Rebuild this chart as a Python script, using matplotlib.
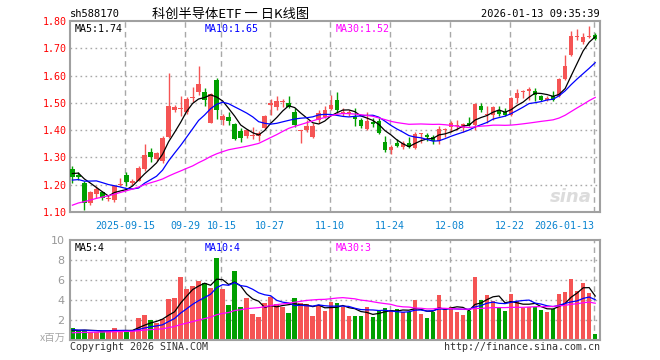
import matplotlib
matplotlib.use('Agg')
import matplotlib.pyplot as plt
import numpy as np
import pandas as pd

# ---------------- data ----------------
opens = [1.258, 1.235, 1.205, 1.132, 1.165, 1.174, 1.148, 1.144, 1.200, 1.236,
         1.206, 1.215, 1.257, 1.321, 1.293, 1.288, 1.376, 1.472, 1.476, 1.465,
         1.518, 1.538, 1.538, 1.428, 1.585, 1.439, 1.450, 1.423, 1.398, 1.377,
         1.380, 1.378, 1.407, 1.493, 1.485, 1.503, 1.500, 1.468, 1.398, 1.400,
         1.374, 1.438, 1.450, 1.477, 1.511, 1.461, 1.460, 1.448, 1.437, 1.404,
         1.431, 1.435, 1.358, 1.328, 1.352, 1.338, 1.354, 1.333, 1.385, 1.383,
         1.374, 1.362, 1.400, 1.411, 1.414, 1.407, 1.425, 1.419, 1.489, 1.455,
         1.456, 1.472, 1.468, 1.456, 1.517, 1.541, 1.543, 1.542, 1.526, 1.512,
         1.526, 1.524, 1.587, 1.677, 1.742, 1.722, 1.741, 1.748]
highs = [1.270, 1.245, 1.212, 1.178, 1.195, 1.178, 1.162, 1.200, 1.225, 1.245,
         1.222, 1.267, 1.350, 1.334, 1.320, 1.378, 1.610, 1.492, 1.524, 1.520,
         1.557, 1.636, 1.556, 1.537, 1.590, 1.460, 1.465, 1.428, 1.408, 1.404,
         1.412, 1.397, 1.456, 1.514, 1.524, 1.515, 1.526, 1.480, 1.402, 1.437,
         1.428, 1.475, 1.489, 1.530, 1.538, 1.480, 1.475, 1.480, 1.445, 1.468,
         1.444, 1.444, 1.379, 1.345, 1.366, 1.360, 1.374, 1.395, 1.391, 1.390,
         1.383, 1.415, 1.408, 1.435, 1.438, 1.428, 1.448, 1.500, 1.501, 1.489,
         1.489, 1.487, 1.480, 1.521, 1.551, 1.548, 1.558, 1.554, 1.530, 1.524,
         1.542, 1.590, 1.677, 1.762, 1.771, 1.757, 1.780, 1.755]
lows = [1.205, 1.218, 1.108, 1.125, 1.150, 1.143, 1.142, 1.135, 1.195, 1.197,
        1.200, 1.212, 1.250, 1.282, 1.288, 1.280, 1.371, 1.465, 1.453, 1.458,
        1.503, 1.530, 1.490, 1.425, 1.442, 1.420, 1.418, 1.364, 1.357, 1.371,
        1.366, 1.362, 1.403, 1.456, 1.472, 1.484, 1.480, 1.413, 1.352, 1.395,
        1.370, 1.426, 1.444, 1.474, 1.462, 1.452, 1.450, 1.415, 1.408, 1.400,
        1.410, 1.386, 1.321, 1.313, 1.337, 1.330, 1.333, 1.330, 1.352, 1.362,
        1.350, 1.350, 1.375, 1.395, 1.401, 1.395, 1.415, 1.400, 1.465, 1.425,
        1.438, 1.450, 1.452, 1.450, 1.501, 1.517, 1.509, 1.505, 1.508, 1.505,
        1.505, 1.520, 1.582, 1.673, 1.732, 1.715, 1.738, 1.732]
closes = [1.229, 1.228, 1.132, 1.174, 1.186, 1.150, 1.151, 1.196, 1.203, 1.211,
          1.215, 1.260, 1.309, 1.301, 1.315, 1.373, 1.487, 1.483, 1.482, 1.515,
          1.522, 1.569, 1.509, 1.532, 1.475, 1.450, 1.432, 1.368, 1.370, 1.399,
          1.384, 1.390, 1.452, 1.500, 1.505, 1.505, 1.485, 1.418, 1.400, 1.416,
          1.417, 1.462, 1.472, 1.493, 1.474, 1.467, 1.465, 1.440, 1.415, 1.435,
          1.423, 1.391, 1.328, 1.337, 1.342, 1.352, 1.338, 1.386, 1.388, 1.374,
          1.362, 1.403, 1.404, 1.425, 1.420, 1.423, 1.419, 1.497, 1.472, 1.457,
          1.484, 1.460, 1.456, 1.517, 1.536, 1.545, 1.550, 1.530, 1.511, 1.516,
          1.512, 1.587, 1.636, 1.745, 1.745, 1.740, 1.745, 1.735]
# volume, millions
volumes = [1.23, 0.90, 1.00, 0.80, 0.80, 0.90, 0.90, 1.20, 0.90, 0.87,
           0.93, 2.20, 2.50, 2.00, 1.67, 2.07, 4.13, 4.23, 6.30, 5.13,
           5.40, 5.90, 5.67, 5.25, 8.20, 5.15, 3.50, 6.90, 3.30, 4.23,
           2.63, 2.33, 3.73, 4.30, 3.60, 3.30, 2.73, 4.23, 3.73, 3.57,
           2.40, 3.50, 2.90, 3.83, 3.73, 3.30, 2.40, 2.40, 2.40, 3.30,
           2.30, 2.90, 3.20, 3.00, 3.10, 2.80, 2.80, 4.00, 2.60, 2.20,
           2.80, 4.50, 3.20, 3.30, 2.80, 2.50, 2.90, 6.30, 4.00, 4.50,
           3.90, 3.30, 2.90, 4.60, 3.90, 3.20, 3.30, 3.30, 3.00, 2.80,
           3.10, 4.60, 4.80, 6.10, 4.90, 5.70, 4.70, 0.60]
# earlier sessions (before the visible window), used only for the moving averages
hist_closes = [0.985, 0.990, 0.995, 1.000, 1.005, 1.010, 1.015, 1.020, 1.025, 1.030,
               1.040, 1.050, 1.090, 1.120, 1.150, 1.170, 1.190, 1.210, 1.230, 1.255,
               1.210, 1.190, 1.170, 1.180, 1.215, 1.220, 1.240, 1.250, 1.266]
hist_volumes = [0.45, 0.48, 0.50, 0.42, 0.46, 0.52, 0.55, 0.50, 0.48, 0.53,
                0.58, 0.62, 0.55, 0.60, 0.65, 0.70, 0.68, 0.72, 0.75, 0.86,
                1.30, 1.15, 1.05, 0.98, 0.97, 0.95, 0.85, 0.92, 0.90]

tick_idx = [9, 19, 25, 33, 43, 53, 63, 73, 87]
tick_labels = ['2025-09-15', '09-29', '10-15', '10-27', '11-10', '11-24',
               '12-08', '12-22', '2026-01-13']

code = 'sh588170'
title = '科创半导体ETF 一 日K线图'
stamp = '2026-01-13 09:35:39'

# ---------------- styling ----------------
RED = '#f55454'
GREEN = '#009f00'
GRID = '#a8a8a8'
SPINE = '#a0a0a0'
MONO = 'DejaVu Sans Mono'
CJK = ['Noto Sans CJK SC', 'DejaVu Sans']

n = len(closes)
x = np.arange(n)
o = np.array(opens); h = np.array(highs); l = np.array(lows); c = np.array(closes)
v = np.array(volumes)
up = c >= o
cols = np.where(up, RED, GREEN)

allc = pd.Series(hist_closes + closes)
allv = pd.Series(hist_volumes + volumes)
k = len(hist_closes)
ma = {p: allc.rolling(p).mean().values[k:] for p in (5, 10, 30)}
vma = {p: allv.rolling(p).mean().values[k:] for p in (5, 10, 30)}

W, H = 660, 360
fig = plt.figure(figsize=(W / 100, H / 100), dpi=100)
ax = fig.add_axes([70 / W, 1 - 212 / H, 530 / W, 191 / H])
axv = fig.add_axes([70 / W, 1 - 340 / H, 530 / W, 100 / H])

xlim = (-0.4, 87.8)
grid_x = [t - 0.2 for t in tick_idx]

# ---- main panel ----
ax.set_xlim(*xlim)
ax.set_ylim(1.10, 1.80)
for yv in [1.2, 1.3, 1.4, 1.5, 1.6, 1.7]:
    ax.axhline(yv, color=GRID, lw=1, ls=(0, (1.2, 2.4)), zorder=0)
for gx in grid_x:
    ax.axvline(gx, color=GRID, lw=1, ls=(0, (4, 3)), zorder=0)

ax.vlines(x, l, h, colors=cols, lw=1, zorder=2)
body_bot = np.minimum(o, c)
body_h = np.maximum(np.abs(c - o), 0.0025)
ax.bar(x, body_h, bottom=body_bot, width=0.76, color=cols, lw=0, zorder=3)

ax.plot(x, ma[5], color='black', lw=0.9, zorder=4)
ax.plot(x, ma[10], color='#0000ff', lw=0.9, zorder=4)
ax.plot(x, ma[30], color='#ff00ff', lw=0.9, zorder=4)

ax.set_yticks([1.1, 1.2, 1.3, 1.4, 1.5, 1.6, 1.7, 1.8])
ax.set_yticklabels(['%.2f' % t for t in [1.1, 1.2, 1.3, 1.4, 1.5, 1.6, 1.7, 1.8]],
                   color='#ff0000', fontsize=7.2, family=MONO)
ax.set_xticks(grid_x)
xl = ax.set_xticklabels(tick_labels, color='#0a84d0', fontsize=7.2, family=MONO)
xl[-1].set_ha('right')
ax.tick_params(axis='both', length=0)
ax.tick_params(axis='y', pad=2.5)
ax.tick_params(axis='x', pad=6.5)
for s in ax.spines.values():
    s.set_color(SPINE); s.set_linewidth(1.5)

ax.text(0.008, 0.985, 'MA5:%.2f' % ma[5][-1], transform=ax.transAxes, ha='left', va='top',
        fontsize=7.2, family=MONO, color='black')
ax.text(135 / 530, 0.985, 'MA10:%.2f' % ma[10][-1], transform=ax.transAxes, ha='left', va='top',
        fontsize=7.2, family=MONO, color='#0000ff')
ax.text(266 / 530, 0.985, 'MA30:%.2f' % ma[30][-1], transform=ax.transAxes, ha='left', va='top',
        fontsize=7.2, family=MONO, color='#ff00ff')
ax.text(0.985, 0.03, 'sina', transform=ax.transAxes, ha='right', va='bottom',
        fontsize=13, fontweight='bold', style='italic', color='#dcdcdc', zorder=1)

# ---- volume panel ----
axv.set_xlim(*xlim)
axv.set_ylim(0, 10)
for yv in [2, 4, 6, 8]:
    axv.axhline(yv, color=GRID, lw=1, ls=(0, (1.2, 2.4)), zorder=0)
for gx in grid_x:
    axv.axvline(gx, color=GRID, lw=1, ls=(0, (4, 3)), zorder=0)
axv.bar(x, v, width=0.76, color=cols, lw=0, zorder=2)
axv.plot(x, vma[5], color='black', lw=0.9, zorder=3)
axv.plot(x, vma[10], color='#0000ff', lw=0.9, zorder=3)
axv.plot(x, vma[30], color='#ff00ff', lw=0.9, zorder=3)
axv.set_yticks([2, 4, 6, 8, 10])
axv.set_yticklabels(['2', '4', '6', '8', '10'], color='#999999', fontsize=8)
axv.set_xticks([])
axv.tick_params(axis='both', length=0)
axv.tick_params(axis='y', pad=4)
for s in axv.spines.values():
    s.set_color(SPINE); s.set_linewidth(1.5)
axv.text(0.008, 0.97, 'MA5:%d' % int(vma[5][-1]), transform=axv.transAxes, ha='left', va='top',
         fontsize=7.2, family=MONO, color='black')
axv.text(135 / 530, 0.97, 'MA10:%d' % int(vma[10][-1]), transform=axv.transAxes, ha='left', va='top',
         fontsize=7.2, family=MONO, color='#0000ff')
axv.text(266 / 530, 0.97, 'MA30:%d' % int(vma[30][-1]), transform=axv.transAxes, ha='left', va='top',
         fontsize=7.2, family=MONO, color='#ff00ff')

# ---- header / footer ----
fig.text(70 / W, 1 - 14 / H, code, ha='left', va='center', fontsize=7.5, family=MONO, color='black')
fig.text(231 / W, 1 - 14 / H, title, ha='center', va='center', fontsize=9.5, family=CJK, color='black')
fig.text(600 / W, 1 - 14 / H, stamp, ha='right', va='center', fontsize=7.5, family=MONO, color='black')
fig.text(66 / W, 1 - 338 / H, 'x百万', ha='right', va='center', fontsize=7.5, family=CJK, color='#a8a8a8')
fig.text(70 / W, 1 - 347 / H, 'Copyright 2026 SINA.COM', ha='left', va='center', fontsize=7.2,
         family=MONO, color='#333333')
fig.text(600 / W, 1 - 347 / H, 'http://finance.sina.com.cn', ha='right', va='center', fontsize=7.2,
         family=MONO, color='#333333')

fig.savefig('out.png', dpi=100, facecolor='white')
